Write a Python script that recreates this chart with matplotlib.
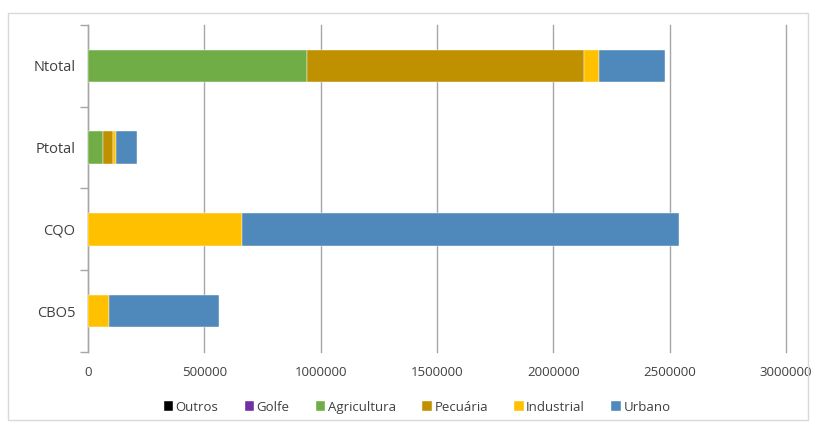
import matplotlib
matplotlib.use("Agg")
import matplotlib.pyplot as plt
from matplotlib.patches import Rectangle
import numpy as np

categories = ["CBO5", "CQO", "Ptotal", "Ntotal"]
series_names = ["Outros", "Golfe", "Agricultura", "Pecuária", "Industrial", "Urbano"]
outros = [0, 0, 0, 0]
golfe = [0, 0, 0, 0]
agricultura = [0, 0, 66000, 942000]
pecuaria = [0, 0, 43000, 1189000]
industrial = [92000, 661000, 10000, 66000]
urbano = [473000, 1881000, 91000, 284000]
x_ticks = [0, 500000, 1000000, 1500000, 2000000, 2500000, 3000000]

colors = ["#000000", "#7030A0", "#70AD47", "#BF9000", "#FFC000", "#4F88BB"]
series = [outros, golfe, agricultura, pecuaria, industrial, urbano]

plt.rcParams['font.family'] = ['Open Sans', 'DejaVu Sans']

fig = plt.figure(figsize=(8.14, 4.23), dpi=100)
ax = fig.add_axes([88/814, 1-352/423, (786-88)/814, (352-25)/423])

# chart border
fig.patches.append(Rectangle((8/814, 3/423), 800/814, 407/423, transform=fig.transFigure,
                             fill=False, edgecolor="#d9d9d9", linewidth=1.0))

y = np.arange(len(categories))
left = np.zeros(len(categories))
for name, vals, c in zip(series_names, series, colors):
    v = np.array(vals, dtype=float)
    ax.barh(y, v, left=left, height=0.4, color=c, label=name,
            edgecolor="white", linewidth=0.3, zorder=3)
    left += v

ax.set_xlim(0, 3000000)
ax.set_ylim(-0.5, len(categories) - 0.5)
ax.set_xticks(x_ticks)
ax.set_xticklabels([str(t) for t in x_ticks], fontsize=9.5, color="#404040")
ax.tick_params(axis="x", length=0, pad=10)
ax.set_yticks(y)
ax.set_yticklabels(categories, fontsize=10.5, color="#404040")
ax.tick_params(axis="y", length=0, pad=9)
# category boundary tick marks
ax.set_yticks(np.arange(-0.5, len(categories)), minor=True)
ax.tick_params(axis="y", which="minor", length=6, color="#a6a6a6", width=1)

ax.xaxis.grid(True, color="#a6a6a6", linewidth=1, zorder=0)
for gl in ax.get_xgridlines():
    gl.set_clip_on(False)
ax.set_axisbelow(True)
for s in ["top", "right", "bottom"]:
    ax.spines[s].set_visible(False)
ax.spines["left"].set_color("#a6a6a6")
ax.spines["left"].set_linewidth(1)

leg = fig.legend(loc="center", bbox_to_anchor=(417/814, 1-407/423), ncol=6, frameon=False,
                 fontsize=9.5, handlelength=0.7, handleheight=0.7, handletextpad=0.2,
                 columnspacing=2.0)
for t in leg.get_texts():
    t.set_color("#404040")

fig.savefig("out.png", dpi=100)
